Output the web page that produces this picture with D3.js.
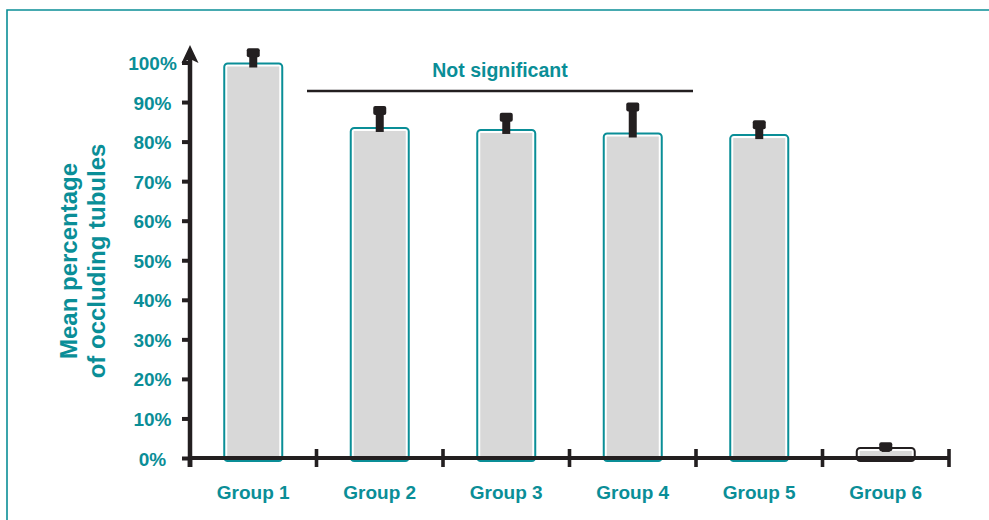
<!DOCTYPE html>
<html><head><meta charset="utf-8">
<script src="https://cdn.jsdelivr.net/npm/d3@7"></script>
<style>
body{margin:0;background:#fff}
svg{display:block}
text{font-family:"Liberation Sans",Arial,Helvetica,sans-serif;font-weight:bold}
</style>
</head><body>
<svg id="chart" width="989" height="520"></svg>
<script>
// ---- data ----
const categories = ["Group 1", "Group 2", "Group 3", "Group 4", "Group 5", "Group 6"];
const means = [100, 83.7, 83.2, 82.3, 81.9, 2.8];
const errors = [3.6, 5.3, 4.1, 7.6, 3.5, 1.2];
const yTicks = [0, 10, 20, 30, 40, 50, 60, 70, 80, 90, 100];
const yTitle = ["Mean percentage", "of occluding tubules"];
const annotationText = "Not significant";
const annotationGroups = ["Group 2", "Group 4"];

// ---- style ----
const TEAL = "#0a8e97";
const INK = "#231f20";
const GRAY = "#d8d8d8";

const svg = d3.select("#chart");

// frame
svg.append("path")
  .attr("d", "M7,520 V10 H989")
  .attr("fill", "none")
  .attr("stroke", TEAL)
  .attr("stroke-width", 1.6);

const x = d3.scaleBand().domain(categories).range([190, 949]).padding(0);
const y = d3.scaleLinear().domain([0, 100]).range([458, 62.5]);
const cx = c => x(c) + x.bandwidth() / 2;
const data = categories.map((c, i) => ({c, m: means[i], e: errors[i], last: i === categories.length - 1}));

// bars
const bars = svg.append("g");
bars.selectAll("rect.outer").data(data).join("rect")
  .attr("class", "outer")
  .attr("x", d => cx(d.c) - 29)
  .attr("y", d => y(d.m) + 1)
  .attr("width", 58)
  .attr("height", d => 461 - (y(d.m) + 1))
  .attr("rx", 3.5)
  .attr("fill", "#fff")
  .attr("stroke", d => d.last ? INK : TEAL)
  .attr("stroke-width", 2);
bars.selectAll("rect.inner").data(data).join("rect")
  .attr("class", "inner")
  .attr("x", d => cx(d.c) - 26)
  .attr("y", d => y(d.m) + 4)
  .attr("width", 52)
  .attr("height", d => Math.max(0, y(0) - (y(d.m) + 4)))
  .attr("fill", GRAY);

// y axis ticks + labels
const yAxis = svg.append("g").attr("transform", "translate(190,0)")
  .call(d3.axisLeft(y).tickValues(yTicks).tickSize(8).tickFormat(d => d + "%"));
yAxis.select(".domain").remove();
yAxis.selectAll(".tick line").attr("stroke", INK).attr("stroke-width", 4);
yAxis.selectAll(".tick text")
  .attr("text-anchor", "middle")
  .attr("x", -37.5)
  .attr("dy", "0.37em")
  .attr("fill", TEAL)
  .style("font-size", "19px")
  .style("font-family", "'Liberation Sans',Arial,sans-serif")
  .style("font-weight", "bold");

// y axis line + arrow
svg.append("line").attr("x1", 190).attr("x2", 190).attr("y1", 467).attr("y2", 56)
  .attr("stroke", INK).attr("stroke-width", 4.5);
svg.append("path").attr("d", "M190,45 L198.5,63 L190,59 L181.5,63 Z").attr("fill", INK);

// x axis line + boundary ticks
const [x0, x1] = x.range();
svg.append("line").attr("x1", x0).attr("x2", x1 + 1).attr("y1", 458).attr("y2", 458)
  .attr("stroke", INK).attr("stroke-width", 4);
svg.append("g").selectAll("line").data(d3.range(categories.length + 1)).join("line")
  .attr("x1", i => x0 + i * x.step()).attr("x2", i => x0 + i * x.step())
  .attr("y1", i => i === 0 ? 458 : 449).attr("y2", 467)
  .attr("stroke", INK).attr("stroke-width", i => i === 0 ? 4.5 : 3.6);

// x labels
svg.append("g").selectAll("text").data(categories).join("text")
  .attr("x", c => cx(c)).attr("y", 499)
  .attr("text-anchor", "middle")
  .attr("fill", TEAL)
  .style("font-size", "19px")
  .text(c => c);

// error bars
const eb = svg.append("g").attr("fill", INK);
eb.selectAll("rect.stem").data(data).join("rect")
  .attr("class", "stem")
  .attr("x", d => cx(d.c) - 4)
  .attr("y", d => y(d.m + d.e) + 4)
  .attr("width", 8)
  .attr("height", d => Math.max(0, (y(d.m) + 5) - (y(d.m + d.e) + 4)));
eb.selectAll("rect.cap").data(data).join("rect")
  .attr("class", "cap")
  .attr("x", d => cx(d.c) - 6.5)
  .attr("y", d => y(d.m + d.e))
  .attr("width", 13)
  .attr("height", 9)
  .attr("rx", 2);

// annotation
const ax0 = x(annotationGroups[0]) - 9.5;
const ax1 = x(annotationGroups[1]) + x.bandwidth() - 3;
svg.append("line").attr("x1", ax0).attr("x2", ax1).attr("y1", 91).attr("y2", 91)
  .attr("stroke", INK).attr("stroke-width", 2.4);
svg.append("text").attr("x", (ax0 + ax1) / 2).attr("y", 77)
  .attr("text-anchor", "middle").attr("fill", TEAL)
  .style("font-size", "19.5px").text(annotationText);

// y title
const yt = svg.append("text")
  .attr("transform", "translate(0,261) rotate(-90)")
  .attr("text-anchor", "middle").attr("fill", TEAL)
  .style("font-size", "24px");
yt.selectAll("tspan").data(yTitle).join("tspan")
  .attr("x", 0).attr("y", (d, i) => i === 0 ? 77 : 105)
  .text(d => d);
</script>
</body></html>
